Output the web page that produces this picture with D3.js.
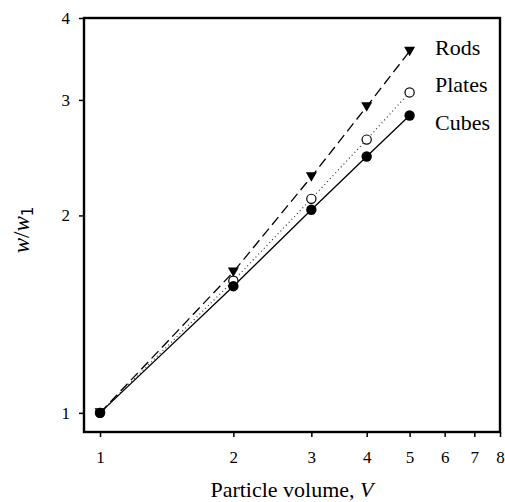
<!DOCTYPE html>
<html>
<head>
<meta charset="utf-8">
<script src="https://cdn.jsdelivr.net/npm/d3@7"></script>
<style>
  body { margin: 0; background: #fff; }
  svg { display: block; font-family: "Liberation Serif", "DejaVu Serif", serif; }
</style>
</head>
<body>
<svg id="chart" width="505" height="502"></svg>
<script>
// Particle volume vs normalised width, log-log
const volumes = [1, 2, 3, 4, 5];
const rods = [1, 1.64, 2.29, 2.93, 3.56];
const plates = [1, 1.59, 2.12, 2.61, 3.08];
const cubes = [1, 1.56, 2.04, 2.46, 2.84];
const xTicks = [1, 2, 3, 4, 5, 6, 7, 8];
const yTicks = [1, 2, 3, 4];
const seriesNames = ["Rods", "Plates", "Cubes"];

const width = 505, height = 502;
const margin = { top: 18, right: 5, bottom: 70, left: 84 };

const svg = d3.select("#chart");

const x = d3.scaleLog()
    .domain([0.92, 8])
    .range([margin.left, width - margin.right]);

const y = d3.scaleLog()
    .domain([0.935, 4])
    .range([height - margin.bottom, margin.top]);

// axes
const xAxis = svg.append("g")
    .attr("transform", `translate(0,${height - margin.bottom})`)
    .call(d3.axisBottom(x).tickValues(xTicks).tickFormat(d3.format("d")).tickSize(5).tickPadding(14));

const yAxis = svg.append("g")
    .attr("transform", `translate(${margin.left},0)`)
    .call(d3.axisLeft(y).tickValues(yTicks).tickFormat(d3.format("d")).tickSize(5).tickPadding(9));

[xAxis, yAxis].forEach(g => {
    g.select(".domain").remove();
    g.selectAll(".tick line").attr("stroke", "#000").attr("stroke-width", 1.5);
    g.selectAll(".tick text")
        .attr("fill", "#000")
        .style("font-size", "17px")
        .style("font-family", "'Liberation Serif', serif");
});

// frame
svg.append("rect")
    .attr("x", margin.left)
    .attr("y", margin.top)
    .attr("width", width - margin.right - margin.left)
    .attr("height", height - margin.bottom - margin.top)
    .attr("fill", "none")
    .attr("stroke", "#000")
    .attr("stroke-width", 2.4);

const series = [
    { name: seriesNames[0], values: rods, dash: "10,5", width: 1.3, marker: "tri" },
    { name: seriesNames[1], values: plates, dash: "1,3", width: 1.2, marker: "open" },
    { name: seriesNames[2], values: cubes, dash: null, width: 1.3, marker: "dot" }
];

const line = d3.line()
    .x(d => x(d[0]))
    .y(d => y(d[1]));

series.forEach(s => {
    const pts = volumes.map((v, i) => [v, s.values[i]]);
    svg.append("path")
        .datum(pts)
        .attr("d", line)
        .attr("fill", "none")
        .attr("stroke", s.marker === "open" ? "#333" : "#000")
        .attr("stroke-width", s.width)
        .attr("stroke-dasharray", s.dash);
});

// markers: rods first, cubes on top
series.forEach(s => {
    const pts = volumes.map((v, i) => [v, s.values[i]]);
    const g = svg.append("g");
    if (s.marker === "tri") {
        g.selectAll("path")
            .data(pts)
            .join("path")
            .attr("d", "M-5.5,-4.5 L5.5,-4.5 L0,5 Z")
            .attr("transform", d => `translate(${x(d[0])},${y(d[1])})`)
            .attr("fill", "#000");
    } else {
        g.selectAll("circle")
            .data(pts)
            .join("circle")
            .attr("cx", d => x(d[0]))
            .attr("cy", d => y(d[1]))
            .attr("r", s.marker === "open" ? 4.6 : 5.2)
            .attr("fill", s.marker === "open" ? "#fff" : "#000")
            .attr("stroke", "#000")
            .attr("stroke-width", s.marker === "open" ? 1.2 : 0);
    }
});

// series labels
const labelY = [55, 92, 130];
svg.append("g")
    .selectAll("text")
    .data(seriesNames)
    .join("text")
    .attr("x", 435)
    .attr("y", (d, i) => labelY[i])
    .style("font-size", "22px")
    .text(d => d);

// axis titles
const xTitle = svg.append("text")
    .attr("x", (margin.left + width - margin.right) / 2)
    .attr("y", 497)
    .attr("text-anchor", "middle")
    .style("font-size", "22px");
xTitle.append("tspan").text("Particle volume, ");
xTitle.append("tspan").attr("font-style", "italic").text("V");

const yTitle = svg.append("text")
    .attr("transform", `translate(29,230) rotate(-90)`)
    .attr("text-anchor", "middle")
    .style("font-size", "23px");
yTitle.append("tspan").attr("font-style", "italic").text("w");
yTitle.append("tspan").text("/");
yTitle.append("tspan").attr("font-style", "italic").text("w");
yTitle.append("tspan").attr("dy", 4).style("font-size", "15px").style("font-family", "'DejaVu Sans', sans-serif").text("1");
</script>
</body>
</html>
